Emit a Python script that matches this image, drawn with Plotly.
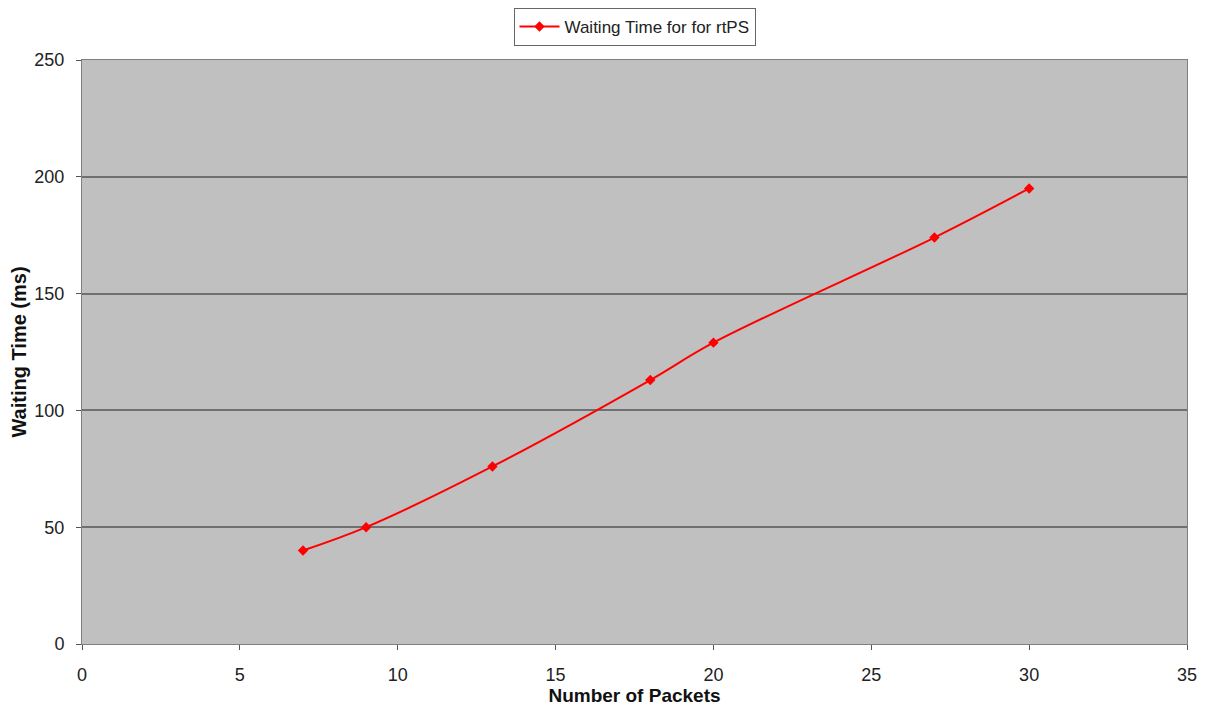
import plotly.graph_objects as go

packets = [7, 9, 13, 18, 20, 27, 30]
waiting = [40, 50, 76, 113, 129, 174, 195]
series_name = "Waiting Time for for rtPS"

fig = go.Figure()
fig.add_trace(go.Scatter(
    x=packets, y=waiting, name=series_name,
    mode="lines+markers",
    line=dict(color="#FF0000", width=2, shape="spline", smoothing=1.0),
    marker=dict(symbol="diamond", size=8, color="#FF0000"),
    showlegend=True,
))

fig.update_layout(
    width=1215, height=711,
    margin=dict(l=74, r=36, t=52, b=75, autoexpand=False),
    paper_bgcolor="white",
    plot_bgcolor="#C0C0C0",
    font=dict(family="Liberation Sans, Arial, sans-serif", size=18, color="#222222"),
    showlegend=True,
    legend=dict(
        orientation="h", x=0.50, xanchor="center", y=1.089, yanchor="top",
        xref="paper", yref="paper",
        bordercolor="#666666", borderwidth=1, bgcolor="white",
        font=dict(size=17, color="#222222"),
        itemwidth=40,
    ),
    xaxis=dict(
        range=[0, 35], dtick=5, tick0=0,
        showgrid=False, zeroline=False,
        showline=True, linecolor="#808080", linewidth=1, mirror=True,
        ticks="outside", ticklen=5, tickcolor="#555555",
        ticklabelstandoff=9,
        title=dict(text="<b>Number of Packets</b>", font=dict(size=19, color="#111111"), standoff=3),
    ),
    yaxis=dict(
        range=[0, 250], dtick=50,
        showgrid=True, gridcolor="#707070", gridwidth=1.5,
        zeroline=False,
        showline=True, linecolor="#808080", linewidth=1, mirror=True,
        ticks="outside", ticklen=5, tickcolor="#555555",
        ticklabelstandoff=8,
        title=dict(text="<b>Waiting Time (ms)</b>", font=dict(size=20, color="#111111"), standoff=7),
    ),
)

fig.write_html("out.html")
